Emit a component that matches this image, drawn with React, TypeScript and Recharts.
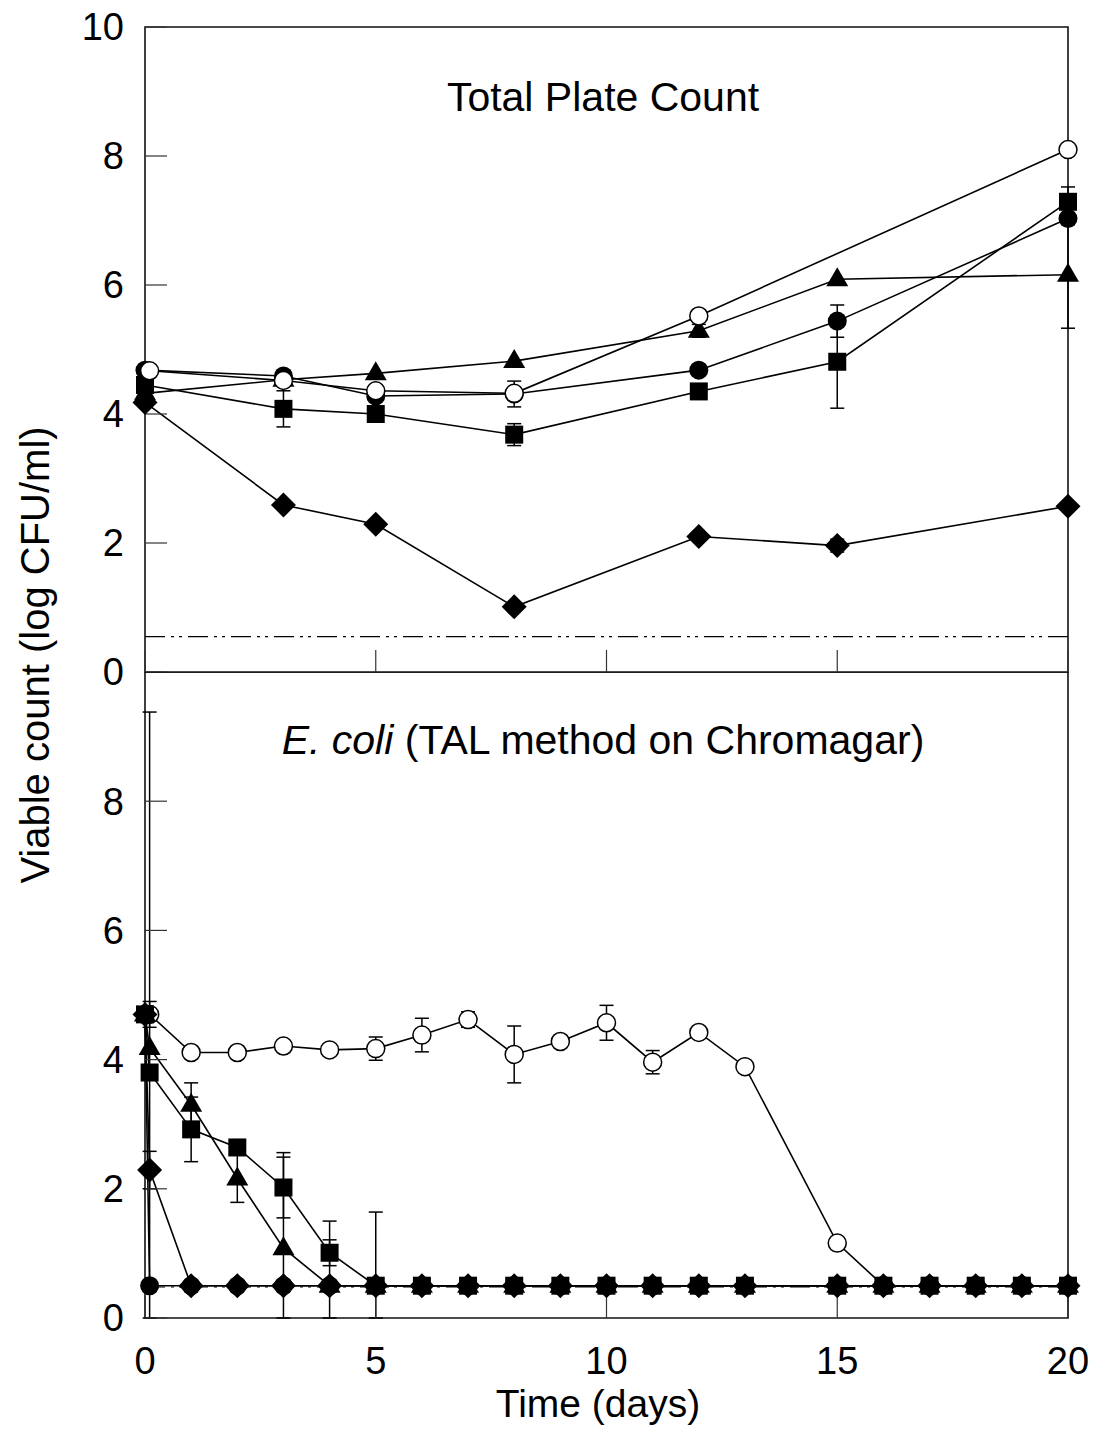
import React from "react";
import { LineChart, Line, XAxis, YAxis, ErrorBar, ReferenceLine, ReferenceArea } from "recharts";

// Total Plate Count panel
const tpcDays = [0, 3, 5, 8, 12, 15, 20];
const tpcOpenDays = [0.1, 3, 5, 8, 12, 20];
const tpcOpen = [4.67, 4.52, 4.36, 4.32, 5.52, 8.1];
const tpcCircle = [4.68, 4.59, 4.28, 4.31, 4.68, 5.44, 7.03];
const tpcCircleErr = [0, 0.08, 0.05, 0.2, 0.08, 0.25, 0];
const tpcTriangle = [4.32, 4.53, 4.63, 4.82, 5.29, 6.09, 6.16];
const tpcTriangleErr = [0, 0, 0, 0, 0.1, 0, 0.83];
const tpcSquare = [4.45, 4.08, 4.0, 3.68, 4.35, 4.81, 7.29];
const tpcSquareErr = [0, 0.28, 0, 0.17, 0.06, 0.72, 0.23];
const tpcDiamond = [4.18, 2.59, 2.29, 1.01, 2.1, 1.96, 2.57];
const tpcDiamondErr = [0, 0, 0.05, 0, 0, 0.1, 0];
const tpcLimit = 0.55;

// E. coli panel
const ecDays = [0, 0.1, 1, 2, 3, 4, 5, 6, 7, 8, 9, 10, 11, 12, 13, 15, 16, 17, 18, 19, 20];
const ecOpenDays = [0.1, 1, 2, 3, 4, 5, 6, 7, 8, 9, 10, 11, 12, 13, 15, 16, 17, 18, 19, 20];
const ecOpen = [4.7, 4.11, 4.11, 4.21, 4.15, 4.17, 4.38, 4.62, 4.08, 4.28, 4.57, 3.96, 4.42, 3.89, 1.16, 0.5, 0.5, 0.5, 0.5, 0.5];
const ecOpenErr = [0.2, 0, 0, 0, 0, 0.18, 0.26, 0.12, 0.44, 0, 0.27, 0.18, 0, 0, 0, 0, 0, 0, 0, 0];
const ecCircle = [4.7, 0.5, 0.5, 0.5, 0.5, 0.5, 0.5, 0.5, 0.5, 0.5, 0.5, 0.5, 0.5, 0.5, 0.5, 0.5, 0.5, 0.5, 0.5, 0.5, 0.5];
const ecCircleErr: any[] = [0, [0.5, 8.88], 0, 0, 0, 0, 0, 0, 0, 0, 0, 0, 0, 0, 0, 0, 0, 0, 0, 0, 0];
const ecTriangle = [4.7, 4.18, 3.3, 2.16, 1.08, 0.5, 0.5, 0.5, 0.5, 0.5, 0.5, 0.5, 0.5, 0.5, 0.5, 0.5, 0.5, 0.5, 0.5, 0.5, 0.5];
const ecTriangleErr: any[] = [0, 0, 0.34, 0.37, [1.08, 1.48], [0.5, 1.0], 0, 0, 0, 0, 0, 0, 0, 0, 0, 0, 0, 0, 0, 0, 0];
const ecSquare = [4.7, 3.8, 2.92, 2.64, 2.02, 1.01, 0.5, 0.5, 0.5, 0.5, 0.5, 0.5, 0.5, 0.5, 0.5, 0.5, 0.5, 0.5, 0.5, 0.5, 0.5];
const ecSquareErr: any[] = [0, 0, 0.5, 0, 0.47, 0.2, [0.5, 1.14], 0, 0, 0, 0, 0, 0, 0, 0, 0, 0, 0, 0, 0, 0];
const ecDiamond = [4.7, 2.29, 0.5, 0.5, 0.5, 0.5, 0.5, 0.5, 0.5, 0.5, 0.5, 0.5, 0.5, 0.5, 0.5, 0.5, 0.5, 0.5, 0.5, 0.5, 0.5];
const ecDiamondErr = [0, 0.29, 0, 0, 0, 0, 0, 0, 0, 0, 0, 0, 0, 0, 0, 0, 0, 0, 0, 0, 0];
const ecLimit = 0.48;

const xTicks = [0, 5, 10, 15, 20];
const tpcYTicks = [0, 2, 4, 6, 8, 10];
const ecYTicks = [0, 2, 4, 6, 8];

const FONT = "'Liberation Sans', Arial, Helvetica, sans-serif";
const INK = "#000";

function rows(days: number[], vals: number[], errs?: any[]) {
  return days.map((x, i) => ({ x, y: vals[i], e: errs ? errs[i] : 0 }));
}

function marker(kind: string) {
  return (p: any) => {
    const { cx, cy, index } = p;
    const key = `${kind}-${index}`;
    if (cx == null || cy == null) return <g key={key} />;
    if (kind === "open")
      return <circle key={key} cx={cx} cy={cy} r={9} fill="#fff" stroke={INK} strokeWidth={1.5} />;
    if (kind === "circle") return <circle key={key} cx={cx} cy={cy} r={9.5} fill={INK} />;
    if (kind === "square") return <rect key={key} x={cx - 9} y={cy - 9} width={18} height={18} fill={INK} />;
    if (kind === "triangle")
      return <polygon key={key} points={`${cx},${cy - 12} ${cx - 11},${cy + 7} ${cx + 11},${cy + 7}`} fill={INK} />;
    return <polygon key={key} points={`${cx},${cy - 12.5} ${cx + 12.5},${cy} ${cx},${cy + 12.5} ${cx - 12.5},${cy}`} fill={INK} />;
  };
}

function series(name: string, kind: string, data: any[]) {
  return (
    <Line
      key={name}
      data={data}
      dataKey="y"
      type="linear"
      stroke={INK}
      strokeWidth={1.6}
      dot={marker(kind)}
      activeDot={false}
      isAnimationActive={false}
    >
      <ErrorBar dataKey="e" direction="y" width={7} stroke={INK} strokeWidth={1.5} />
    </Line>
  );
}

const noLabel = () => <g />;
const tickText = { fill: INK, fontSize: 38, fontFamily: FONT };
const limitDash = "20 6 3 5 3 6";

function TopPanel() {
  return (
    <LineChart width={1093} height={700} margin={{ top: 27, right: 25, bottom: 0, left: 85 }}>
      <XAxis
        type="number"
        dataKey="x"
        domain={[0, 20]}
        ticks={xTicks}
        interval={0}
        height={28}
        axisLine={false}
        tickSize={-22}
        tickLine={{ stroke: "#333", strokeWidth: 1.2 }}
        tick={noLabel}
      />
      <YAxis
        type="number"
        domain={[0, 10]}
        ticks={tpcYTicks}
        interval={0}
        width={60}
        axisLine={false}
        tickSize={-22}
        tickMargin={43}
        tickLine={{ stroke: "#333", strokeWidth: 1.2 }}
        tick={tickText}
      />
      <ReferenceArea x1={0} x2={20} y1={0} y2={10} fill="none" stroke="#111" strokeWidth={1.6} />
      <ReferenceLine y={tpcLimit} stroke={INK} strokeWidth={1.2} strokeDasharray={limitDash} />
      {series("tpcDiamond", "diamond", rows(tpcDays, tpcDiamond, tpcDiamondErr))}
      {series("tpcSquare", "square", rows(tpcDays, tpcSquare, tpcSquareErr))}
      {series("tpcTriangle", "triangle", rows(tpcDays, tpcTriangle, tpcTriangleErr))}
      {series("tpcCircle", "circle", rows(tpcDays, tpcCircle, tpcCircleErr))}
      {series("tpcOpen", "open", rows(tpcOpenDays, tpcOpen))}
    </LineChart>
  );
}

function BottomPanel() {
  return (
    <LineChart width={1093} height={765} margin={{ top: 0, right: 25, bottom: 39, left: 85 }}>
      <XAxis
        type="number"
        dataKey="x"
        domain={[0, 20]}
        ticks={xTicks}
        interval={0}
        height={80}
        axisLine={false}
        tickSize={-22}
        tickMargin={51}
        tickLine={{ stroke: "#333", strokeWidth: 1.2 }}
        tick={tickText}
      />
      <YAxis
        type="number"
        domain={[0, 10]}
        ticks={ecYTicks}
        interval={0}
        width={60}
        axisLine={false}
        tickSize={-22}
        tickMargin={43}
        tickLine={{ stroke: "#333", strokeWidth: 1.2 }}
        tick={tickText}
      />
      <ReferenceArea x1={0} x2={20} y1={0} y2={10} fill="none" stroke="#111" strokeWidth={1.6} />
      <ReferenceLine y={ecLimit} stroke={INK} strokeWidth={1.2} strokeDasharray={limitDash} />
      {series("ecOpen", "open", rows(ecOpenDays, ecOpen, ecOpenErr))}
      {series("ecDiamond", "diamond", rows(ecDays, ecDiamond, ecDiamondErr))}
      {series("ecSquare", "square", rows(ecDays, ecSquare, ecSquareErr))}
      {series("ecTriangle", "triangle", rows(ecDays, ecTriangle, ecTriangleErr))}
      {series("ecCircle", "circle", rows(ecDays, ecCircle, ecCircleErr))}
    </LineChart>
  );
}

export default function App() {
  return (
    <div style={{ position: "absolute", left: 0, top: 0, width: 1093, height: 1437, background: "#fff" }}>
      <div style={{ position: "absolute", left: 0, top: 0 }}>
        <TopPanel />
      </div>
      <div style={{ position: "absolute", left: 0, top: 672 }}>
        <BottomPanel />
      </div>
      <svg
        width={1093}
        height={1437}
        style={{ position: "absolute", left: 0, top: 0, pointerEvents: "none" }}
        fontFamily={FONT}
        fill={INK}
      >
        <text x={603} y={97} fontSize={41} textAnchor="middle" dominantBaseline="central">
          Total Plate Count
        </text>
        <text x={603} y={740} fontSize={41} textAnchor="middle" dominantBaseline="central">
          <tspan fontStyle="italic">E. coli</tspan> (TAL method on Chromagar)
        </text>
        <text
          x={35}
          y={655}
          fontSize={40}
          textAnchor="middle"
          dominantBaseline="central"
          transform="rotate(-90 35 655)"
        >
          Viable count (log CFU/ml)
        </text>
        <text x={598} y={1417} fontSize={39} textAnchor="middle">
          Time (days)
        </text>
      </svg>
    </div>
  );
}
